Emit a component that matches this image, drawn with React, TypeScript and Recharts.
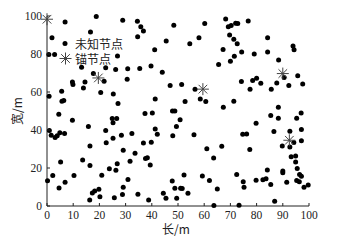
import React from 'react';
import { ScatterChart, Scatter, XAxis, YAxis, Legend } from 'recharts';

const xTicks = [0, 10, 20, 30, 40, 50, 60, 70, 80, 90, 100];
const yTicks = [0, 10, 20, 30, 40, 50, 60, 70, 80, 90, 100];

const seriesNames = ['未知节点', '锚节点'];
const xLabel = '长/m';
const yLabel = '宽/m';

// unknown nodes as [x, y]
const unknownNodes: [number, number][] = [
  [6.9, 96.9], [18.8, 99.8], [28.9, 97.8], [34.5, 97.3], [35.8, 94.3], [36.8, 92.1], [34.6, 89.1],
  [48.4, 95.1], [60.2, 96.1], [68.2, 98.4], [69.2, 94.3], [70.3, 95], [72, 96.2], [72.8, 96], [76.8, 97.4],
  [1.9, 88.5], [16.6, 91.6], [45.5, 86.8], [58, 88.5], [54.5, 85.4], [69.7, 90], [71.3, 87.7],
  [72.6, 85.4], [84.2, 88.6], [93.9, 84.2], [94.3, 82.3],
  [0.7, 79.7], [2.9, 79.8], [26.9, 79], [41.1, 82.2], [67.2, 82.4], [74.3, 81.1], [71.5, 78.8],
  [79.1, 80], [84.2, 81.1], [70, 76.2], [88.4, 76.8],
  [13.2, 73], [22.4, 72.7], [26.2, 71.9], [30.8, 72.3], [35.4, 72.4], [39.7, 73.7], [44, 70.4], [65.5, 74.5],
  [30.6, 66.7], [17.7, 69.8], [21.8, 65.6], [9.7, 65.2], [9.9, 63.9], [14.5, 65.2], [13.9, 62.1],
  [47, 63.4], [51.4, 64], [56.5, 61.5], [90.5, 67.6], [95.7, 68.6], [97.6, 64.2], [92.3, 63.4],
  [87.7, 64.7], [85.6, 61.4], [74.2, 65.5], [78.5, 66], [80, 67.3], [81.6, 64.6], [77.5, 61.5],
  [5.6, 60.4], [20.5, 59.8], [25.3, 59], [0.8, 57.8], [5.7, 55.1], [6.4, 55.5], [27.1, 54], [41.3, 56.3],
  [52.7, 55], [58.5, 56.3], [60.6, 55], [67.3, 52], [71.3, 55.1], [88.3, 52],
  [47.9, 50], [48.8, 50], [37.4, 48.7], [40.2, 48.9], [4.5, 48.3], [85.4, 47.6], [88.3, 46.2],
  [95.3, 46.2], [97, 48.9],
  [9.7, 45.1], [15.8, 41.8], [24.9, 46], [25.2, 43.8], [26.6, 46], [50.8, 45.4], [49.4, 41.9],
  [41.3, 40.5], [42.1, 37.7], [48, 37], [56.1, 37.5], [79.8, 43.5], [74.7, 37.7], [76.2, 37.9],
  [86.6, 39.2], [92.7, 39.3], [97.1, 40.3],
  [0.9, 39.8], [1.6, 37.2], [3.1, 36], [3.9, 37], [4.9, 38.6], [6.7, 38.1], [22.4, 39.8], [22.6, 33.3],
  [25.2, 35.7], [28.4, 37.2], [32.4, 38.1], [36.8, 33.2], [39.8, 33.5], [97.1, 34.3], [77.4, 29.8],
  [89.8, 31.6], [92.7, 31.1], [94.2, 33.4],
  [16.4, 31.6], [29.1, 29.3], [33.6, 27.8], [61, 30.1], [66.7, 31.4],
  [13.6, 24.2], [5.2, 23.1], [16.4, 21.3], [23.8, 19.6], [26.3, 18.8], [26.8, 22.2], [31.7, 23.5],
  [37.6, 25], [38.3, 25.4], [39.4, 21.6], [63.6, 25.3], [93.2, 25.9], [94.9, 26.3], [94.9, 23.1], [95.5, 19.7],
  [0.2, 13.3], [2.2, 16], [4.6, 9.5], [6.9, 12.5], [10.3, 16], [20.9, 16.2], [30.9, 13.9], [29.1, 9.9],
  [28.8, 6.1], [25.7, 4.3], [19.8, 8.8], [18.2, 7.9], [17.3, 6.9], [20.2, 4.9], [16.3, 3.2],
  [34.7, 6.2], [38.8, 3.2], [44.4, 6.7], [45.4, 4.1], [49.5, 4.1], [48.8, 9.3], [51, 9.4], [51.6, 9.2],
  [53.8, 6.7], [47.8, 13.2], [52.3, 16.3], [59.3, 15.8], [62, 13.4], [65, 8.9], [63.7, 0.2],
  [72.4, 16.6], [74.9, 12.7], [75.2, 9.9], [73.3, 0.4], [79.8, 13.6], [82.4, 13.8], [83.6, 14.4],
  [84.1, 18.9], [85.4, 11.3], [86.9, 2.5], [90, 18.4], [90, 17.5], [91.5, 12.5], [96.4, 16.6],
  [97.1, 15.7], [95.3, 13.4], [96.3, 12.7], [98.1, 9.9], [99.7, 11.1],
];

const anchorNodes: [number, number][] = [
  [0, 98.3], [19.6, 67.4], [59.5, 61.5], [90, 69.7], [92.5, 34.6],
];

const unknownData = unknownNodes.map(([x, y]) => ({ x, y }));
const anchorData = anchorNodes.map(([x, y]) => ({ x, y }));

const numFont = '"Liberation Serif", "DejaVu Serif", serif';
const cjkFont = '"Noto Sans CJK SC", "Liberation Serif", serif';
const textColor = '#222';

const Dot = (props: any) => <circle cx={props.cx} cy={props.cy} r={2.5} fill="#000" />;

const Star = (props: any) => {
  const { cx, cy } = props;
  const r = 6;
  const d = r * 0.72;
  return (
    <g stroke="#444" strokeWidth={1}>
      <line x1={cx - r} y1={cy} x2={cx + r} y2={cy} />
      <line x1={cx} y1={cy - r} x2={cx} y2={cy + r} />
      <line x1={cx - d} y1={cy - d} x2={cx + d} y2={cy + d} />
      <line x1={cx - d} y1={cy + d} x2={cx + d} y2={cy - d} />
    </g>
  );
};

const LeftTick = (props: any) => {
  const { x, y, payload } = props;
  const ax = x + 5;
  return (
    <g>
      <line x1={ax} y1={y} x2={ax + 3} y2={y} stroke={textColor} />
      <text x={x} y={y} dy="0.36em" textAnchor="end" fontFamily={numFont} fontSize={11.5} fill={textColor}>
        {payload.value}
      </text>
    </g>
  );
};

const BottomTick = (props: any) => {
  const { x, y, payload } = props;
  const ay = y - 5;
  return (
    <g>
      <line x1={x} y1={ay} x2={x} y2={ay - 3} stroke={textColor} />
      <text x={x} y={y} dy="0.72em" textAnchor="middle" fontFamily={numFont} fontSize={11.5} fill={textColor}>
        {payload.value}
      </text>
    </g>
  );
};

const XLabel = (props: any) => {
  const vb = props.viewBox;
  return (
    <text x={vb.x + vb.width / 2 - 2} y={vb.y + 18.5} dy="0.8em" textAnchor="middle" fontFamily={cjkFont} fontSize={12} fill={textColor}>
      {xLabel}
    </text>
  );
};

const YLabel = (props: any) => {
  const vb = props.viewBox;
  const cx = 17.5;
  const cy = vb.y + vb.height / 2;
  return (
    <text x={cx} y={cy} dy="0.35em" textAnchor="middle" transform={`rotate(-90, ${cx}, ${cy})`} fontFamily={cjkFont} fontSize={12} fill={textColor}>
      {yLabel}
    </text>
  );
};

const renderLegend = () => (
  <div style={{ fontFamily: cjkFont, fontSize: 12, color: textColor }}>
    {seriesNames.map((name, i) => (
      <div key={name} style={{ position: 'relative', height: 15, paddingLeft: 17 }}>
        <svg width={14} height={15} style={{ position: 'absolute', left: 0, top: 0 }}>
          {i === 1 ? <Star cx={7.5} cy={7.5} /> : <Dot cx={7} cy={7.5} />}
        </svg>
        <span style={{ display: 'block', lineHeight: '15px', whiteSpace: 'nowrap' }}>{name}</span>
      </div>
    ))}
  </div>
);

const App: React.FC = () => {
  return (
    <div style={{ position: 'absolute', left: 0, top: 0 }}>
      <ScatterChart width={337} height={242} margin={{ top: 16, right: 28, bottom: 0, left: 0 }}>
        <XAxis
          type="number"
          dataKey="x"
          domain={[0, 100]}
          ticks={xTicks}
          height={36}
          tickSize={0}
          tickMargin={5}
          tickLine={false}
          tick={<BottomTick />}
          axisLine={{ stroke: textColor }}
          label={(p: any) => <XLabel {...p} />}
        />
        <YAxis
          type="number"
          dataKey="y"
          domain={[0, 100]}
          ticks={yTicks}
          width={47}
          tickSize={0}
          tickMargin={5}
          tickLine={false}
          tick={<LeftTick />}
          axisLine={{ stroke: textColor }}
          label={(p: any) => <YLabel {...p} />}
        />
        <XAxis xAxisId="top" orientation="top" type="number" domain={[0, 100]} height={0} tick={false} tickLine={false} axisLine={{ stroke: textColor }} />
        <YAxis yAxisId="right" orientation="right" type="number" domain={[0, 100]} width={0} tick={false} tickLine={false} axisLine={{ stroke: '#aaa' }} />
        <Legend
          layout="vertical"
          align="center"
          verticalAlign="middle"
          content={renderLegend}
          wrapperStyle={{ left: 58, top: 36, width: 90, height: 30 }}
        />
        <Scatter name={seriesNames[0]} data={unknownData} shape={Dot} isAnimationActive={false} />
        <Scatter name={seriesNames[1]} data={anchorData} shape={Star} isAnimationActive={false} />
      </ScatterChart>
    </div>
  );
};

export default App;
